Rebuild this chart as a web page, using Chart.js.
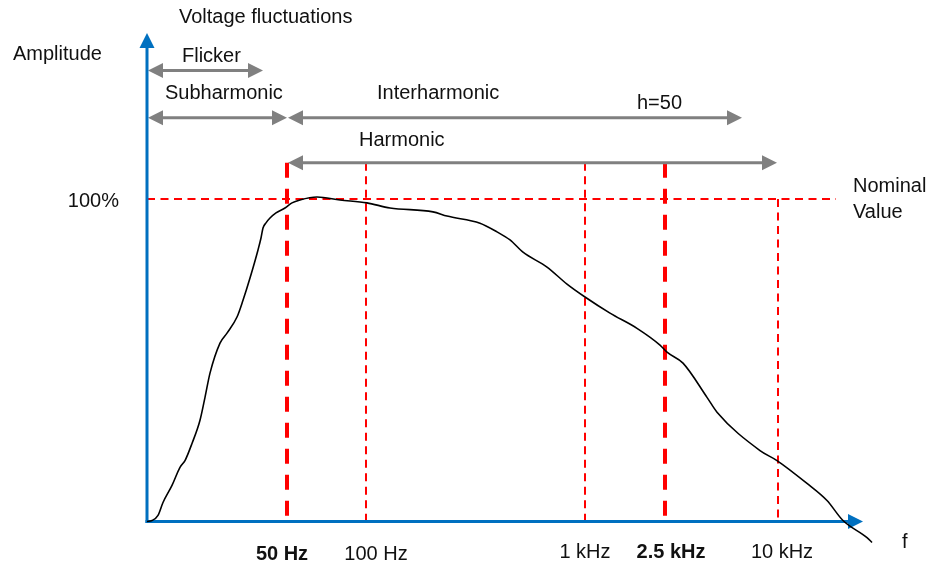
<!DOCTYPE html>
<html><head><meta charset="utf-8">
<script src="https://cdn.jsdelivr.net/npm/chart.js@4"></script>
<style>html,body{margin:0;padding:0;background:#fff}canvas{display:block}</style>
</head><body>
<canvas id="c" width="929" height="565"></canvas>
<script>
// Schematic frequency position (arbitrary units along the f axis) and amplitude (% of nominal)
const curveX = [0, 5, 11, 16, 25, 33, 38, 45, 53, 58, 63, 73, 80, 90, 96, 103, 111, 114, 116, 119, 123, 129, 138, 145, 153, 170, 193, 220, 243, 286, 300, 333, 350, 363, 376, 400, 420, 438, 463, 490, 513, 520, 536, 560, 570, 613, 630, 660, 680, 696, 720, 725];
const curveY = [0, 0.3, 1.9, 5.9, 11.2, 16.8, 18.9, 24.2, 31.4, 38.5, 46.0, 55.3, 58.4, 63.4, 68.6, 75.5, 84.2, 87.9, 91.0, 92.6, 94.1, 95.7, 97.2, 98.8, 99.7, 100.6, 99.7, 98.8, 97.2, 96.0, 94.7, 92.5, 89.8, 87.3, 83.5, 78.9, 73.6, 69.6, 64.6, 59.9, 54.7, 52.5, 49.1, 38.5, 33.9, 22.0, 18.9, 11.8, 6.5, 0.3, -5.0, -6.5];

const freqLabels = ['50 Hz', '100 Hz', '1 kHz', '2.5 kHz', '10 kHz'];
const freqPos = [140, 219, 438, 518, 631];
const freqMajor = [true, false, false, true, false];

const nominalLevel = 100;
const bandLabels = ['Flicker', 'Subharmonic', 'Interharmonic', 'Harmonic'];
const bandStart = [0, 0, 140, 140];
const bandEnd = [116, 140, 595, 630];

const FONT = '"Liberation Sans", Arial, Helvetica, sans-serif';

function head(ctx, x, y, dir, len, half, color) {
  ctx.save();
  ctx.fillStyle = color;
  ctx.beginPath();
  if (dir === 'r') { ctx.moveTo(x, y); ctx.lineTo(x - len, y - half); ctx.lineTo(x - len, y + half); }
  else if (dir === 'l') { ctx.moveTo(x, y); ctx.lineTo(x + len, y - half); ctx.lineTo(x + len, y + half); }
  else { ctx.moveTo(x, y); ctx.lineTo(x - half, y + len); ctx.lineTo(x + half, y + len); }
  ctx.closePath();
  ctx.fill();
  ctx.restore();
}

const deco = {
  id: 'deco',
  beforeDatasetsDraw(chart) {
    const ctx = chart.ctx, xs = chart.scales.x, ys = chart.scales.y;
    const X = v => xs.getPixelForValue(v), Y = v => ys.getPixelForValue(v);
    const x0 = X(0), y0 = Y(0);
    ctx.save();
    // red dashed nominal line
    ctx.strokeStyle = '#ff0000';
    ctx.lineWidth = 2;
    ctx.setLineDash([8, 5.5]);
    ctx.beginPath(); ctx.moveTo(x0, Y(nominalLevel)); ctx.lineTo(X(689), Y(nominalLevel)); ctx.stroke();
    // vertical frequency markers
    freqPos.forEach((p, i) => {
      const top = (i === 4) ? nominalLevel : 111.2;
      ctx.beginPath();
      if (freqMajor[i]) { ctx.lineWidth = 4; ctx.setLineDash([15, 11]); }
      else { ctx.lineWidth = 2; ctx.setLineDash([8, 5.5]); }
      ctx.moveTo(X(p), Y(top)); ctx.lineTo(X(p), y0); ctx.stroke();
    });
    ctx.setLineDash([]);
    // grey band arrows
    const levels = [139.8, 125.2, 125.2, 111.2];
    const grey = '#808080';
    ctx.strokeStyle = grey; ctx.lineWidth = 3;
    bandLabels.forEach((lab, i) => {
      const a = X(bandStart[i]) + 1, b = X(bandEnd[i]), y = Y(levels[i]);
      const len = 15, half = 7.5;
      ctx.beginPath(); ctx.moveTo(a + len - 1, y); ctx.lineTo(b - len + 1, y); ctx.stroke();
      head(ctx, a, y, 'l', len, half, grey);
      head(ctx, b, y, 'r', len, half, grey);
    });
    // blue axes
    const blue = '#0070c0';
    ctx.strokeStyle = blue; ctx.lineWidth = 3;
    ctx.beginPath(); ctx.moveTo(x0, y0 + 1.5); ctx.lineTo(x0, 46); ctx.stroke();
    head(ctx, x0, 33, 'u', 15, 7.5, blue);
    ctx.beginPath(); ctx.moveTo(x0 - 1.5, y0); ctx.lineTo(850, y0); ctx.stroke();
    head(ctx, 863, y0, 'r', 15, 7.5, blue);
    ctx.restore();
  },
  afterDraw(chart) {
    const ctx = chart.ctx, xs = chart.scales.x;
    const X = v => xs.getPixelForValue(v);
    ctx.save();
    ctx.fillStyle = '#111';
    ctx.textBaseline = 'alphabetic';
    ctx.font = '20px ' + FONT;
    ctx.textAlign = 'left';
    ctx.fillText('Voltage fluctuations', 179, 23);
    ctx.fillText('Amplitude', 13, 60);
    ctx.fillText(bandLabels[0], 182, 62);
    ctx.fillText(bandLabels[1], 165, 99);
    ctx.fillText(bandLabels[2], 377, 99);
    ctx.fillText('h=50', 637, 109);
    ctx.fillText(bandLabels[3], 359, 146);
    ctx.fillText('Nominal', 853, 192);
    ctx.fillText('Value', 853, 218);
    ctx.fillText('f', 902, 548);
    ctx.textAlign = 'right';
    ctx.fillText(nominalLevel + '%', 119, 207);
    ctx.textAlign = 'center';
    const offs = [-5, 10, 0, 6, 4];
    freqLabels.forEach((l, i) => {
      ctx.font = (freqMajor[i] ? 'bold ' : '') + '20px ' + FONT;
      ctx.fillText(l, X(freqPos[i]) + offs[i], i < 2 ? 560 : 558);
    });
    ctx.restore();
  }
};

new Chart(document.getElementById('c'), {
  type: 'line',
  data: {
    datasets: [{
      data: curveX.map((x, i) => ({ x, y: curveY[i] })),
      borderColor: '#000',
      borderWidth: 1.6,
      pointRadius: 0,
      cubicInterpolationMode: 'monotone',
      fill: false
    }]
  },
  options: {
    responsive: false,
    animation: false,
    events: [],
    layout: { padding: { left: 147, right: 42, top: 34.5, bottom: 11.25 } },
    plugins: { legend: { display: false }, tooltip: { enabled: false } },
    scales: {
      x: { type: 'linear', min: 0, max: 740, display: false },
      y: { type: 'linear', min: -10, max: 151, display: false }
    }
  },
  plugins: [deco]
});
</script>
</body></html>
